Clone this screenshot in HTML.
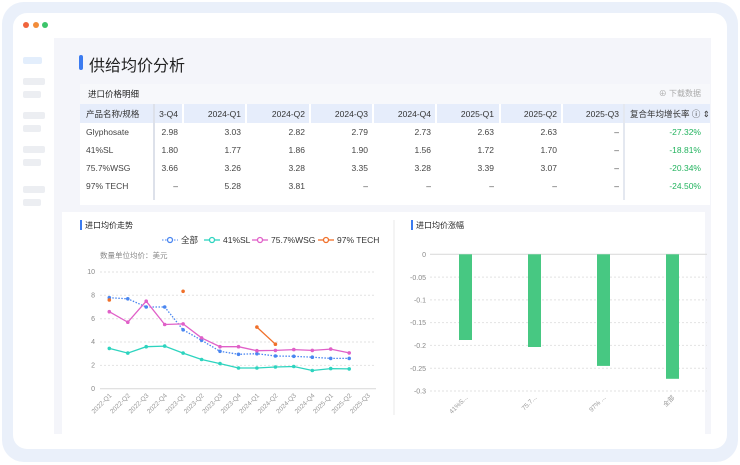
<!DOCTYPE html>
<html><head><meta charset="utf-8"><style>
*{margin:0;padding:0;box-sizing:border-box}
body{width:740px;height:465px;background:#fff;font-family:"Liberation Sans","Noto Sans CJK SC",sans-serif;position:relative;overflow:hidden}
.frame{position:absolute;left:2px;top:2px;width:736px;height:460px;border-radius:22px;background:#eaf0fa}
.win{position:absolute;left:13px;top:13px;width:714px;height:436px;border-radius:14px;background:#fff}
.dot{position:absolute;top:22px;width:6px;height:6px;border-radius:50%}
.main{position:absolute;left:54px;top:38px;width:657px;height:396px;background:#f4f5fa}
.sb{position:absolute;left:23px;height:7px;border-radius:2px;background:#eceef2}
.t{position:absolute;white-space:nowrap}
</style></head><body>
<div class="frame"></div>
<div class="win"></div>
<div class="dot" style="left:23px;background:#f0643c"></div>
<div class="dot" style="left:33px;background:#f28c3a"></div>
<div class="dot" style="left:42px;background:#3cc46a"></div>
<div class="sb" style="top:57px;width:19px;background:#e3eefc"></div>
<div class="sb" style="top:78px;width:22px"></div>
<div class="sb" style="top:91px;width:18px"></div>
<div class="sb" style="top:112px;width:22px"></div>
<div class="sb" style="top:125px;width:18px"></div>
<div class="sb" style="top:146px;width:22px"></div>
<div class="sb" style="top:159px;width:18px"></div>
<div class="sb" style="top:186px;width:22px"></div>
<div class="sb" style="top:199px;width:18px"></div>
<div class="main"></div>
<div style="position:absolute;left:79px;top:55px;width:4px;height:15px;border-radius:2px;background:#3b7bf0"></div>
<div class="t" style="left:89px;top:52px;font-size:16px;color:#222">供给均价分析</div>
<svg style="position:absolute;left:0;top:0" width="740" height="465" font-family="Liberation Sans, Noto Sans CJK SC, sans-serif">
<!-- table -->
<rect x="80" y="84" width="630" height="121" fill="#fff"/>
<rect x="80" y="84" width="630" height="20" fill="#f7f8fb"/>
<text x="88" y="97" font-size="8.5" fill="#222">进口价格明细</text>
<text x="701" y="96" font-size="8" fill="#aaa" text-anchor="end">⊕ 下载数据</text>
<rect x="80" y="104" width="630" height="19" fill="#e6edfb"/>
<g stroke="#fff" stroke-width="2"><line x1="183" y1="104" x2="183" y2="123"/><line x1="246" y1="104" x2="246" y2="123"/><line x1="310" y1="104" x2="310" y2="123"/><line x1="373" y1="104" x2="373" y2="123"/><line x1="436" y1="104" x2="436" y2="123"/><line x1="500" y1="104" x2="500" y2="123"/><line x1="562" y1="104" x2="562" y2="123"/></g>
<line x1="154" y1="104" x2="154" y2="200" stroke="#dde1ea" stroke-width="2"/>
<line x1="624" y1="104" x2="624" y2="200" stroke="#e4e8f0" stroke-width="2"/>
<g font-size="8.5" fill="#333" text-anchor="end">
<text x="86" y="117" text-anchor="start">产品名称/规格</text>
<text x="178" y="117">3-Q4</text><text x="241" y="117">2024-Q1</text><text x="305" y="117">2024-Q2</text><text x="368" y="117">2024-Q3</text><text x="431" y="117">2024-Q4</text><text x="494" y="117">2025-Q1</text><text x="557" y="117">2025-Q2</text><text x="619" y="117">2025-Q3</text>
<text x="630" y="117" text-anchor="start">复合年均增长率 ⓘ ⇕</text>
</g>
<g font-size="8.5" fill="#444" text-anchor="end">
<text x="86" y="135" text-anchor="start">Glyphosate</text><text x="178" y="135">2.98</text><text x="241" y="135">3.03</text><text x="305" y="135">2.82</text><text x="368" y="135">2.79</text><text x="431" y="135">2.73</text><text x="494" y="135">2.63</text><text x="557" y="135">2.63</text><text x="619" y="135">–</text>
<text x="86" y="153" text-anchor="start">41%SL</text><text x="178" y="153">1.80</text><text x="241" y="153">1.77</text><text x="305" y="153">1.86</text><text x="368" y="153">1.90</text><text x="431" y="153">1.56</text><text x="494" y="153">1.72</text><text x="557" y="153">1.70</text><text x="619" y="153">–</text>
<text x="86" y="171" text-anchor="start">75.7%WSG</text><text x="178" y="171">3.66</text><text x="241" y="171">3.26</text><text x="305" y="171">3.28</text><text x="368" y="171">3.35</text><text x="431" y="171">3.28</text><text x="494" y="171">3.39</text><text x="557" y="171">3.07</text><text x="619" y="171">–</text>
<text x="86" y="189" text-anchor="start">97% TECH</text><text x="178" y="189">–</text><text x="241" y="189">5.28</text><text x="305" y="189">3.81</text><text x="368" y="189">–</text><text x="431" y="189">–</text><text x="494" y="189">–</text><text x="557" y="189">–</text><text x="619" y="189">–</text>
</g>
<g font-size="8.5" fill="#22b35e" text-anchor="end"><text x="701" y="135">-27.32%</text><text x="701" y="153">-18.81%</text><text x="701" y="171">-20.34%</text><text x="701" y="189">-24.50%</text></g>
<!-- chart panels -->
<rect x="62" y="212" width="643" height="222" fill="#fff"/>
<line x1="394" y1="220" x2="394" y2="415" stroke="#e8e8e8"/>
<rect x="80" y="220" width="2" height="10" fill="#3b7bf0"/>
<text x="85" y="228" font-size="8" fill="#222">进口均价走势</text>
<rect x="411" y="220" width="2" height="10" fill="#3b7bf0"/>
<text x="416" y="228" font-size="8" fill="#222">进口均价涨幅</text>
<!-- legend -->
<g font-size="8.5" fill="#333">
<line x1="162" y1="240" x2="178" y2="240" stroke="#4a86f0" stroke-dasharray="1.5 1.5"/><circle cx="170" cy="240" r="2.5" fill="#fff" stroke="#4a86f0" stroke-width="1.3"/><text x="181" y="243">全部</text>
<line x1="204" y1="240" x2="220" y2="240" stroke="#2dd4bf" stroke-width="1.3"/><circle cx="212" cy="240" r="2.5" fill="#fff" stroke="#2dd4bf" stroke-width="1.3"/><text x="223" y="243">41%SL</text>
<line x1="252" y1="240" x2="268" y2="240" stroke="#e060c8" stroke-width="1.3"/><circle cx="260" cy="240" r="2.5" fill="#fff" stroke="#e060c8" stroke-width="1.3"/><text x="271" y="243">75.7%WSG</text>
<line x1="318" y1="240" x2="334" y2="240" stroke="#f0702a" stroke-width="1.3"/><circle cx="326" cy="240" r="2.5" fill="#fff" stroke="#f0702a" stroke-width="1.3"/><text x="337" y="243">97% TECH</text>
</g>
<text x="100" y="258" font-size="7.5" fill="#888">数量单位均价：美元</text>
<!-- line chart axes: y0=388.7 y10=272 -> 11.67/unit -->
<g stroke="#e2e2e2" stroke-dasharray="2 2"><line x1="100" y1="272" x2="376" y2="272"/><line x1="100" y1="295.3" x2="376" y2="295.3"/><line x1="100" y1="318.7" x2="376" y2="318.7"/><line x1="100" y1="342" x2="376" y2="342"/><line x1="100" y1="365.4" x2="376" y2="365.4"/></g>
<line x1="100" y1="388.7" x2="376" y2="388.7" stroke="#ddd" stroke-width="1.2"/>
<g font-size="7" fill="#888" text-anchor="end"><text x="95" y="274">10</text><text x="95" y="297.5">8</text><text x="95" y="321">6</text><text x="95" y="344">4</text><text x="95" y="367.5">2</text><text x="95" y="391">0</text></g>
<g font-size="6.5" fill="#999" text-anchor="end">
<text transform="translate(112,396) rotate(-45)">2022-Q1</text><text transform="translate(130.5,396) rotate(-45)">2022-Q2</text><text transform="translate(149,396) rotate(-45)">2022-Q3</text><text transform="translate(167.4,396) rotate(-45)">2022-Q4</text><text transform="translate(185.9,396) rotate(-45)">2023-Q1</text><text transform="translate(204.3,396) rotate(-45)">2023-Q2</text><text transform="translate(222.8,396) rotate(-45)">2023-Q3</text><text transform="translate(241.2,396) rotate(-45)">2023-Q4</text><text transform="translate(259.7,396) rotate(-45)">2024-Q1</text><text transform="translate(278.2,396) rotate(-45)">2024-Q2</text><text transform="translate(296.6,396) rotate(-45)">2024-Q3</text><text transform="translate(315.1,396) rotate(-45)">2024-Q4</text><text transform="translate(333.5,396) rotate(-45)">2025-Q1</text><text transform="translate(352,396) rotate(-45)">2025-Q2</text><text transform="translate(370.4,396) rotate(-45)">2025-Q3</text>
</g>
<g fill="none" stroke-width="1.3">
<polyline stroke="#4a86f0" stroke-dasharray="1.5 1.5" points="109.3,297.7 127.8,298.8 146.2,307 164.7,307 183.1,329.8 201.6,340.3 220,351.3 238.5,354.3 256.9,353.7 275.4,356 293.8,356.3 312.3,357.2 330.7,358.4 349.2,358.4"/>
<polyline stroke="#2dd4bf" points="109.3,348.4 127.8,353.1 146.2,346.7 164.7,346.1 183.1,353.1 201.6,359.5 220,363.6 238.5,368 256.9,368 275.4,367 293.8,366.5 312.3,370.5 330.7,368.6 349.2,368.9"/>
<polyline stroke="#e060c8" points="109.3,311.7 127.8,322.2 146.2,301.2 164.7,324.5 183.1,323.9 201.6,337.9 220,346.7 238.5,346.7 256.9,350.7 275.4,350.4 293.8,349.6 312.3,350.4 330.7,349.1 349.2,352.9"/>
<polyline stroke="#f0702a" points="256.9,327.1 275.4,344.2"/>
</g>
<g fill="#4a86f0"><circle cx="109.3" cy="297.7" r="1.8"/><circle cx="127.8" cy="298.8" r="1.8"/><circle cx="146.2" cy="307" r="1.8"/><circle cx="164.7" cy="307" r="1.8"/><circle cx="183.1" cy="329.8" r="1.8"/><circle cx="201.6" cy="340.3" r="1.8"/><circle cx="220" cy="351.3" r="1.8"/><circle cx="238.5" cy="354.3" r="1.8"/><circle cx="256.9" cy="353.7" r="1.8"/><circle cx="275.4" cy="356" r="1.8"/><circle cx="293.8" cy="356.3" r="1.8"/><circle cx="312.3" cy="357.2" r="1.8"/><circle cx="330.7" cy="358.4" r="1.8"/><circle cx="349.2" cy="358.4" r="1.8"/></g>
<g fill="#2dd4bf"><circle cx="109.3" cy="348.4" r="1.8"/><circle cx="127.8" cy="353.1" r="1.8"/><circle cx="146.2" cy="346.7" r="1.8"/><circle cx="164.7" cy="346.1" r="1.8"/><circle cx="183.1" cy="353.1" r="1.8"/><circle cx="201.6" cy="359.5" r="1.8"/><circle cx="220" cy="363.6" r="1.8"/><circle cx="238.5" cy="368" r="1.8"/><circle cx="256.9" cy="368" r="1.8"/><circle cx="275.4" cy="367" r="1.8"/><circle cx="293.8" cy="366.5" r="1.8"/><circle cx="312.3" cy="370.5" r="1.8"/><circle cx="330.7" cy="368.6" r="1.8"/><circle cx="349.2" cy="368.9" r="1.8"/></g>
<g fill="#e060c8"><circle cx="109.3" cy="311.7" r="1.8"/><circle cx="127.8" cy="322.2" r="1.8"/><circle cx="146.2" cy="301.2" r="1.8"/><circle cx="164.7" cy="324.5" r="1.8"/><circle cx="183.1" cy="323.9" r="1.8"/><circle cx="201.6" cy="337.9" r="1.8"/><circle cx="220" cy="346.7" r="1.8"/><circle cx="238.5" cy="346.7" r="1.8"/><circle cx="256.9" cy="350.7" r="1.8"/><circle cx="275.4" cy="350.4" r="1.8"/><circle cx="293.8" cy="349.6" r="1.8"/><circle cx="312.3" cy="350.4" r="1.8"/><circle cx="330.7" cy="349.1" r="1.8"/><circle cx="349.2" cy="352.9" r="1.8"/></g>
<g fill="#f0702a"><circle cx="109.3" cy="300" r="1.8"/><circle cx="183.1" cy="291.3" r="1.8"/><circle cx="256.9" cy="327.1" r="1.8"/><circle cx="275.4" cy="344.2" r="1.8"/></g>
<!-- bar chart: y0=254.3, -0.3=391 -> 455.7/unit -->
<g stroke="#e2e2e2" stroke-dasharray="2 2"><line x1="430" y1="277.1" x2="707" y2="277.1"/><line x1="430" y1="299.9" x2="707" y2="299.9"/><line x1="430" y1="322.6" x2="707" y2="322.6"/><line x1="430" y1="345.4" x2="707" y2="345.4"/><line x1="430" y1="368.2" x2="707" y2="368.2"/><line x1="430" y1="391" x2="707" y2="391"/></g>
<line x1="430" y1="254.3" x2="707" y2="254.3" stroke="#ddd" stroke-width="1.2"/>
<g font-size="7" fill="#888" text-anchor="end"><text x="426" y="257">0</text><text x="426" y="280">-0.05</text><text x="426" y="302.5">-0.1</text><text x="426" y="325">-0.15</text><text x="426" y="348">-0.2</text><text x="426" y="371">-0.25</text><text x="426" y="393.5">-0.3</text></g>
<g fill="#47c882"><rect x="459" y="254.3" width="13" height="85.7"/><rect x="528" y="254.3" width="13" height="92.7"/><rect x="597" y="254.3" width="13" height="111.6"/><rect x="666" y="254.3" width="13" height="124.5"/></g>
<g font-size="6.5" fill="#999" text-anchor="end">
<text transform="translate(468,398) rotate(-45)">41%S...</text><text transform="translate(537,398) rotate(-45)">75.7...</text><text transform="translate(606,398) rotate(-45)">97% ...</text><text transform="translate(675,398) rotate(-45)">全部</text>
</g>
</svg>
</body></html>
